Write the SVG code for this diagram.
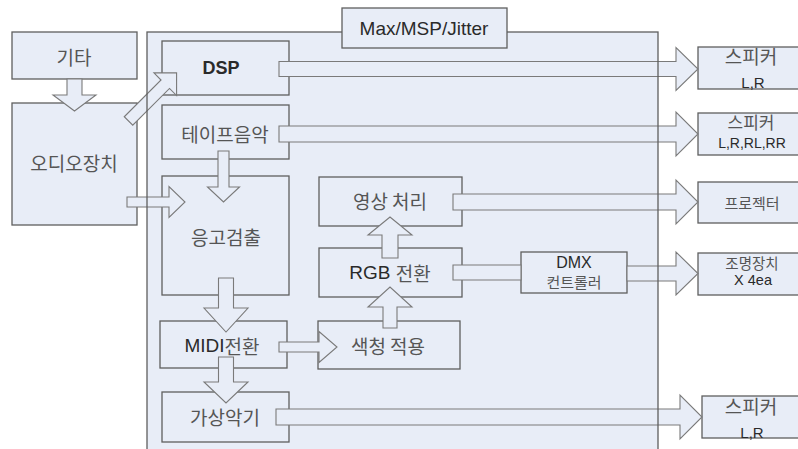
<svg xmlns="http://www.w3.org/2000/svg" width="798" height="449" viewBox="0 0 798 449">
<style>
.bg{fill:#ffffff}
.box{fill:#e8edf7;stroke:#5f5f5f;stroke-width:1.3}
.cont{fill:#e8edf7}
.contb{fill:none;stroke:#5f5f5f;stroke-width:1.3}
.arr{fill:#e8edf7;stroke:#7a7a7a;stroke-width:1.1;stroke-linejoin:miter}
.ko{font-family:"Noto Sans CJK KR","Liberation Sans",sans-serif;font-size:19px;fill:#555555;text-anchor:middle;dominant-baseline:central}
.la{font-family:"Liberation Sans","Noto Sans CJK KR",sans-serif;font-size:19px;fill:#2a2a2a;text-anchor:middle;dominant-baseline:central}
.sko{font-family:"Noto Sans CJK KR","Liberation Sans",sans-serif;font-size:15px;fill:#555555;text-anchor:middle;dominant-baseline:central}
.sla{font-family:"Liberation Sans",sans-serif;font-size:15px;fill:#2a2a2a;text-anchor:middle;dominant-baseline:central}
</style>
<rect class="bg" x="0" y="0" width="798" height="449"/>
<rect class="cont" x="147" y="32" width="511" height="430"/>

<g id="guitar"><rect class="box" x="12" y="32" width="125" height="47"/><text class="ko" x="74" y="56">기타</text></g>
<g id="audio"><rect class="box" x="12" y="103" width="125" height="122"/><text class="ko" x="74" y="162">오디오장치</text></g>
<g id="dsp"><rect class="box" x="162" y="41" width="127" height="54"/><text class="la" x="221" y="68" style="font-weight:bold;font-size:18px">DSP</text></g>
<g id="tape"><rect class="box" x="162" y="105" width="127" height="54"/><text class="ko" x="225" y="133">테이프음악</text></g>
<g id="pitch"><rect class="box" x="162" y="176" width="127" height="119"/><text class="ko" x="226" y="236">응고검출</text></g>
<g id="midi"><rect class="box" x="160" y="321" width="127" height="47"/><text class="la" x="222" y="345">MIDI<tspan style="font-family:'Noto Sans CJK KR',sans-serif;fill:#555555">전환</tspan></text></g>
<g id="virtual"><rect class="box" x="162" y="392" width="127" height="50"/><text class="ko" x="225" y="416">가상악기</text></g>
<g id="video"><rect class="box" x="319" y="177" width="143" height="49"/><text class="ko" x="390" y="200">영상 처리</text></g>
<g id="rgb"><rect class="box" x="319" y="248" width="143" height="49"/><text class="la" x="390" y="272">RGB <tspan style="font-family:'Noto Sans CJK KR',sans-serif;fill:#555555">전환</tspan></text></g>
<g id="color"><rect class="box" x="318" y="321" width="142" height="48"/><text class="ko" x="388" y="345">색청 적용</text></g>
<g id="dmx"><rect class="box" x="521" y="252" width="106" height="41"/><text class="sla" x="574" y="262" style="font-size:16px">DMX</text><text class="sko" x="574" y="281">컨트롤러</text></g>
<g id="spk1"><rect class="box" x="698" y="47" width="108" height="42"/><text class="ko" x="751" y="55">스피커</text><text class="sla" x="753" y="82">L,R</text></g>
<g id="spk2"><rect class="box" x="698" y="113" width="108" height="42"/><text class="ko" x="751" y="121" style="font-size:17px">스피커</text><text class="sla" x="752" y="143" style="font-size:14px">L,R,RL,RR</text></g>
<g id="proj"><rect class="box" x="698" y="182" width="108" height="41"/><text class="sko" x="752" y="202">프로젝터</text></g>
<g id="light"><rect class="box" x="698" y="253" width="108" height="42"/><text class="sko" x="752" y="262" style="font-size:14.5px">조명장치</text><text class="sla" x="753" y="280" style="font-size:14.5px">X 4ea</text></g>
<g id="spk3"><rect class="box" x="702" y="396" width="104" height="42"/><text class="ko" x="751" y="405">스피커</text><text class="sla" x="752" y="432">L,R</text></g>

<g id="connectors">
<path class="arr" d="M67,79 V95 H53 L74.5,111 L96,95 H82 V79 Z"/>
<path class="arr" transform="translate(128.5,121) rotate(-45)" d="M0,-6 H52 V-16 L68,0 L52,16 V6 H0 Z"/>
<path class="arr" d="M127,197 H169 V186.5 L185,202 L169,217.5 V207 H127 Z"/>
<path class="arr" d="M218,151 V187 H207.5 L223.5,202 L239.5,187 H229 V151 Z"/>
<path class="arr" d="M218.5,278 V308 H204 L226,332 L248,308 H233.5 V278 Z"/>
<path class="arr" d="M218.5,357 V382 H204 L226,403 L248,382 H233.5 V357 Z"/>
<path class="arr" d="M279,342 H319 V331.5 L337,347 L319,362.5 V352 H279 Z"/>
<path class="arr" d="M383,328 V307 H368 L390,287 L412,307 H397 V328 Z"/>
<path class="arr" d="M382,258 V235 H368 L390,217 L412,235 H398 V258 Z"/>
<path class="arr" d="M279,61.5 H676 V47.5 L698,69 L676,90.5 V76.5 H279 Z"/>
<path class="arr" d="M279,126 H676 V112 L698,134 L676,156 V142 H279 Z"/>
<path class="arr" d="M453,194 H676 V180 L698,202 L676,224 V210 H453 Z"/>
<path class="arr" d="M453,265 H521 V280 H453 Z"/>
<path class="arr" d="M627,266 H676 V252 L698,273.5 L676,295 V281 H627 Z"/>
<path class="arr" d="M276,409 H680 V395 L702,417 L680,439 V425 H276 Z"/>
</g>

<rect class="contb" x="147" y="32" width="511" height="430"/>
<g id="maxmsp"><rect class="box" x="342" y="8" width="165" height="40"/><text class="la" x="424" y="28">Max/MSP/Jitter</text></g>
</svg>
